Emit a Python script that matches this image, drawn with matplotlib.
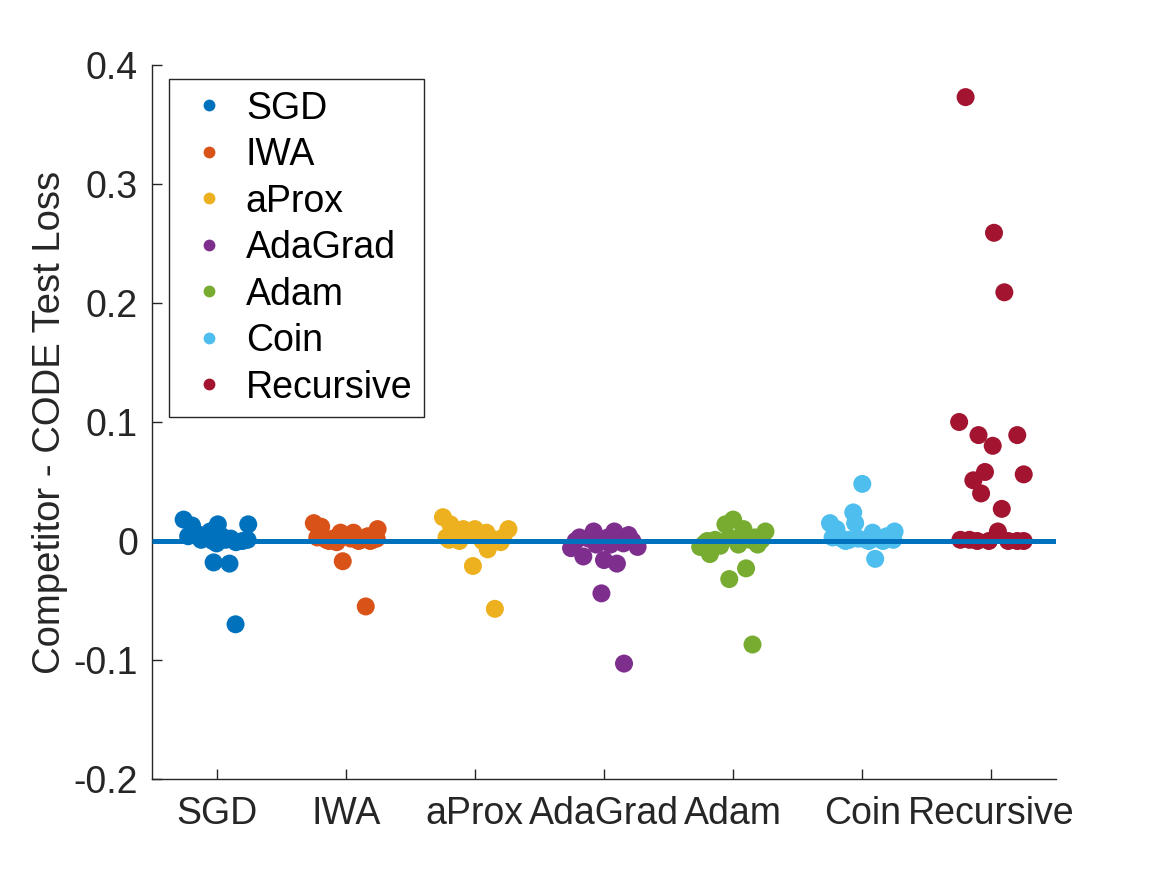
import matplotlib
matplotlib.use("Agg")
import matplotlib.pyplot as plt
from matplotlib.lines import Line2D

plt.rcParams['font.family'] = ['Liberation Sans', 'DejaVu Sans']

methods = ["SGD", "IWA", "aProx", "AdaGrad", "Adam", "Coin", "Recursive"]
colors = ["#0072BD", "#D95319", "#EDB120", "#7E2F8E", "#77AC30", "#4DBEEE", "#A2142F"]

sgd_jit = [-0.255, -0.19, 0.01, 0.245, -0.22, -0.15, -0.09, -0.05, -0.12, 0.04,
           0.07, 0.11, 0.15, 0.20, 0.24, -0.03, 0.0, -0.023, 0.10, 0.147]
sgd_val = [0.018, 0.013, 0.014, 0.014, 0.004, 0.006, 0.003, 0.008, 0.001, 0.004,
           0.001, 0.002, -0.001, 0.000, 0.001, 0.000, -0.002, -0.018, -0.019, -0.070]

iwa_jit = [-0.247, -0.19, 0.247, -0.023, 0.155, -0.22, -0.15, -0.10, -0.04, 0.06,
           0.04, 0.08, 0.12, 0.17, 0.21, 0.24, -0.13, 0.10, 0.19, -0.07]
iwa_val = [0.015, 0.012, 0.010, -0.017, -0.055, 0.003, 0.001, 0.002, 0.007, 0.007,
           0.002, 0.003, 0.001, 0.004, 0.001, 0.002, 0.000, 0.000, 0.000, -0.001]

aprox_jit = [-0.247, -0.19, -0.09, 0.0, 0.09, 0.26, 0.10, -0.015, 0.155, -0.22,
             -0.15, -0.05, 0.04, 0.13, 0.18, 0.22, -0.12, 0.06, -0.20, 0.20]
aprox_val = [0.020, 0.014, 0.010, 0.010, 0.007, 0.010, -0.007, -0.021, -0.057, 0.003,
             0.004, 0.005, 0.003, 0.002, 0.001, 0.003, 0.000, 0.000, 0.001, -0.001]

adagrad_jit = [-0.19, -0.08, 0.08, 0.19, 0.26, -0.255, -0.16, 0.0, 0.10, -0.02,
               0.155, -0.12, -0.04, 0.03, 0.13, 0.22, -0.22, 0.05, 0.15, -0.06]
adagrad_val = [0.003, 0.008, 0.008, 0.005, -0.005, -0.006, -0.013, -0.016, -0.019, -0.044,
               -0.103, 0.002, 0.001, 0.003, 0.001, 0.000, 0.000, -0.003, -0.002, -0.003]

adam_jit = [-0.255, -0.18, 0.0, -0.06, 0.08, 0.25, -0.10, 0.04, 0.19, 0.10,
            -0.03, 0.15, -0.22, -0.14, -0.03, 0.06, 0.13, 0.22, -0.20, 0.17]
adam_val = [-0.005, -0.011, 0.018, 0.014, 0.010, 0.008, -0.004, -0.003, -0.003, -0.023,
            -0.032, -0.087, -0.002, 0.001, 0.003, 0.002, 0.001, 0.001, 0.000, 0.003]

coin_jit = [0.0, -0.07, -0.055, -0.25, -0.20, 0.08, 0.25, 0.19, 0.10, -0.23,
            -0.16, -0.10, -0.03, 0.03, 0.12, 0.16, 0.22, -0.13, 0.05, 0.24]
coin_val = [0.048, 0.024, 0.015, 0.015, 0.010, 0.007, 0.008, 0.004, -0.015, 0.003,
            0.002, 0.001, 0.002, 0.001, 0.002, 0.000, 0.002, 0.000, 0.000, 0.001]

rec_jit = [-0.20, 0.02, 0.10, -0.25, -0.10, 0.20, 0.01, -0.05, -0.14, 0.25,
           -0.08, 0.08, 0.05, -0.24, -0.17, -0.11, -0.02, 0.13, 0.20, 0.25]
rec_val = [0.373, 0.259, 0.209, 0.100, 0.089, 0.089, 0.080, 0.058, 0.051, 0.056,
           0.040, 0.027, 0.008, 0.001, 0.001, 0.000, 0.000, 0.000, 0.000, 0.000]

jitters = [sgd_jit, iwa_jit, aprox_jit, adagrad_jit, adam_jit, coin_jit, rec_jit]
values = [sgd_val, iwa_val, aprox_val, adagrad_val, adam_val, coin_val, rec_val]

yticks = [-0.2, -0.1, 0, 0.1, 0.2, 0.3, 0.4]
ytick_labels = ["-0.2", "-0.1", "0", "0.1", "0.2", "0.3", "0.4"]

fig = plt.figure(figsize=(11.67, 8.75), dpi=100)
ax = fig.add_axes([152/1167, 1-779/875, (1056-152)/1167, (779-65)/875])

for i, (jit, val, c) in enumerate(zip(jitters, values, colors)):
    xs = [i + 1 + j for j in jit]
    ax.scatter(xs, val, s=168, color=c, edgecolors='none', zorder=2)

ax.plot([0.5, 7.5], [0, 0], color="#0072BD", lw=3.6, zorder=3, solid_capstyle='butt')

ax.set_xlim(0.5, 7.5)
ax.set_ylim(-0.2, 0.4)
ax.set_xticks(range(1, 8))
ax.set_xticklabels(methods)
ax.set_yticks(yticks)
ax.set_yticklabels(ytick_labels)
for s in ['top', 'right']:
    ax.spines[s].set_visible(False)
for s in ['left', 'bottom']:
    ax.spines[s].set_color('#262626')
    ax.spines[s].set_linewidth(1.0)
ax.tick_params(direction='in', length=7, width=1.0, colors='#262626',
               labelsize=27, labelcolor='#262626')
ax.tick_params(axis='x', pad=12)
ax.tick_params(axis='y', pad=10)
ax.set_ylabel("Competitor - CODE Test Loss", fontsize=27.5, color='#262626', labelpad=4)

handles = [Line2D([], [], ls='none', marker='o', markersize=8.5, color=c,
                  markeredgewidth=0) for c in colors]
leg = ax.legend(handles, methods, loc='upper left', bbox_to_anchor=(0.0188, 0.98),
                fontsize=27, frameon=True, fancybox=False, edgecolor='#262626',
                framealpha=1, borderpad=0.3, labelspacing=0.28, handletextpad=0.2,
                handlelength=1.55, borderaxespad=0)
leg.get_frame().set_linewidth(1.0)

fig.savefig("out.png", dpi=100)
